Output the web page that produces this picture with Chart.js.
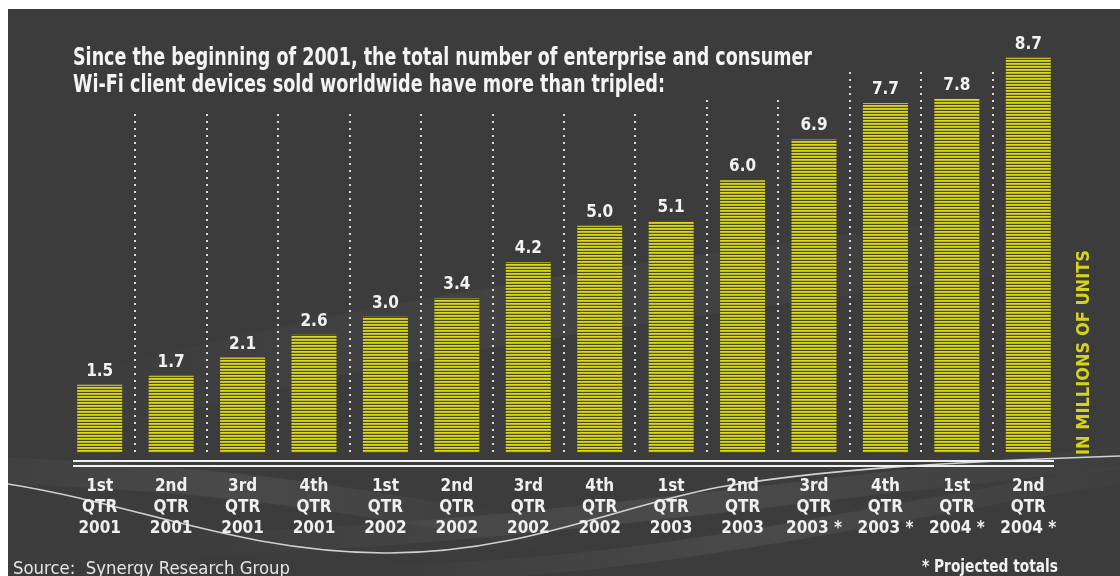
<!DOCTYPE html>
<html>
<head>
<meta charset="utf-8">
<script src="https://cdn.jsdelivr.net/npm/chart.js@4/dist/chart.umd.min.js"></script>
<style>
  html, body { margin: 0; padding: 0; background: #ffffff; }
  #wrap { width: 1120px; height: 576px; position: relative; }
</style>
</head>
<body>
<div id="wrap"><canvas id="chart" width="1120" height="576"></canvas></div>
<script>
const quarters = ["1st", "2nd", "3rd", "4th", "1st", "2nd", "3rd", "4th", "1st", "2nd", "3rd", "4th", "1st", "2nd"];
const years = ["2001", "2001", "2001", "2001", "2002", "2002", "2002", "2002", "2003", "2003", "2003", "2003", "2004", "2004"];
const projected = [false, false, false, false, false, false, false, false, false, false, true, true, true, true];
const unitsSold = [1.5, 1.7, 2.1, 2.6, 3.0, 3.4, 4.2, 5.0, 5.1, 6.0, 6.9, 7.7, 7.8, 8.7];

const titleLines = [
  "Since the beginning of 2001, the total number of enterprise and consumer",
  "Wi-Fi client devices sold worldwide have more than tripled:"
];
const axisTitle = "IN MILLIONS OF UNITS";
const sourceText = "Source:  Synergy Research Group";
const footnote = "* Projected totals";

const COND = "'Liberation Sans Narrow', 'DejaVu Sans Condensed', 'Arial Narrow', sans-serif";
const BG = "#3c3c3c";
const YELLOW = "#d6d21e";

const labels = quarters.map((q, i) => [q, "QTR", years[i] + (projected[i] ? " *" : "")]);

// striped yellow fill for the bars
function stripes() {
  const c = document.createElement("canvas");
  c.width = 1;
  c.height = 3;
  const g = c.getContext("2d");
  g.fillStyle = "#dad61c";
  g.fillRect(0, 0, 1, 1);
  g.fillStyle = "#bfbb28";
  g.fillRect(0, 1, 1, 1);
  g.fillStyle = "#4a492c";
  g.fillRect(0, 2, 1, 1);
  return g.createPattern(c, "repeat");
}

// draw text squeezed/stretched to a given width
function fitText(ctx, text, x, y, width) {
  const w = ctx.measureText(text).width;
  ctx.save();
  ctx.translate(x, y);
  ctx.scale(width / w, 1);
  ctx.fillText(text, 0, 0);
  ctx.restore();
}

function band(ctx, pts, width, alpha) {
  const g = ctx.createLinearGradient(pts[0], 0, pts[6], 0);
  g.addColorStop(0, "rgba(255,255,255,0)");
  g.addColorStop(0.5, "rgba(255,255,255," + alpha + ")");
  g.addColorStop(1, "rgba(255,255,255,0)");
  ctx.strokeStyle = g;
  ctx.lineWidth = width;
  ctx.beginPath();
  ctx.moveTo(pts[0], pts[1]);
  ctx.bezierCurveTo(pts[2], pts[3], pts[4], pts[5], pts[6], pts[7]);
  ctx.stroke();
}

const backdrop = {
  id: "backdrop",
  beforeDraw(chart) {
    const ctx = chart.ctx;
    ctx.save();
    ctx.fillStyle = "#ffffff";
    ctx.fillRect(0, 0, chart.width, chart.height);
    ctx.fillStyle = BG;
    ctx.fillRect(8, 9, chart.width - 8, chart.height - 9);

    // soft swooshes
    band(ctx, [8, 430, 250, 350, 550, 300, 1120, 230], 60, 0.04);
    band(ctx, [150, 545, 500, 540, 850, 480, 1200, 450], 22, 0.08);
    band(ctx, [350, 575, 700, 570, 900, 500, 1200, 465], 18, 0.07);
    band(ctx, [-100, 468, 150, 472, 330, 490, 560, 540], 26, 0.07);

    // thin white curve
    ctx.strokeStyle = "rgba(235,235,235,0.85)";
    ctx.lineWidth = 1.6;
    ctx.beginPath();
    ctx.moveTo(8, 484);
    ctx.bezierCurveTo(140, 505, 240, 552, 385, 553);
    ctx.bezierCurveTo(520, 554, 620, 505, 720, 487);
    ctx.bezierCurveTo(820, 470, 940, 462, 1120, 456);
    ctx.stroke();
    ctx.restore();
  },
  beforeDatasetsDraw(chart) {
    const ctx = chart.ctx;
    const meta = chart.getDatasetMeta(0);
    const bottom = chart.chartArea.bottom;
    ctx.save();
    ctx.strokeStyle = "#d8d8d8";
    ctx.lineWidth = 2;
    ctx.setLineDash([2, 5]);
    for (let i = 0; i < meta.data.length - 1; i++) {
      const x = Math.round((meta.data[i].x + meta.data[i + 1].x) / 2);
      let top = 72;
      if (x < 680) top = 114;
      else if (x < 815) top = 100;
      ctx.beginPath();
      ctx.moveTo(x, top);
      ctx.lineTo(x, bottom + 3);
      ctx.stroke();
    }
    ctx.restore();
  }
};

const annotations = {
  id: "annotations",
  afterDatasetsDraw(chart) {
    const ctx = chart.ctx;
    const area = chart.chartArea;
    const meta = chart.getDatasetMeta(0);
    ctx.save();

    // double base line
    ctx.strokeStyle = "#f0f0f0";
    ctx.lineWidth = 2;
    ctx.beginPath();
    ctx.moveTo(73, area.bottom + 8);
    ctx.lineTo(1054, area.bottom + 8);
    ctx.moveTo(73, area.bottom + 13);
    ctx.lineTo(1054, area.bottom + 13);
    ctx.stroke();

    // values above bars
    ctx.fillStyle = "#f2f2f2";
    ctx.font = "bold 17px " + COND;
    ctx.textAlign = "center";
    ctx.textBaseline = "alphabetic";
    meta.data.forEach((bar, i) => {
      ctx.fillText(unitsSold[i].toFixed(1), bar.x, bar.y - 9);
    });

    // heading
    ctx.textAlign = "left";
    ctx.font = "bold 24px " + COND;
    ctx.fillStyle = "#f4f4f4";
    fitText(ctx, titleLines[0], 73, 65, 739);
    fitText(ctx, titleLines[1], 73, 92, 592);

    // vertical units label
    ctx.save();
    ctx.translate(1089, 455);
    ctx.rotate(-Math.PI / 2);
    ctx.font = "bold 18px " + COND;
    ctx.fillStyle = YELLOW;
    fitText(ctx, axisTitle, 0, 0, 205);
    ctx.restore();

    // source and footnote
    ctx.font = "18px " + COND;
    ctx.fillStyle = "#e6e6e6";
    fitText(ctx, sourceText, 13, 574, 277);
    ctx.font = "bold 17px " + COND;
    ctx.fillStyle = "#f2f2f2";
    fitText(ctx, footnote, 922, 572, 136);
    ctx.restore();
  }
};

const ctx = document.getElementById("chart").getContext("2d");
new Chart(ctx, {
  type: "bar",
  data: {
    labels: labels,
    datasets: [{
      data: unitsSold,
      backgroundColor: stripes(),
      borderWidth: 0,
      barPercentage: 0.63,
      categoryPercentage: 1.0,
    }],
  },
  options: {
    responsive: false,
    animation: false,
    layout: {
      padding: { top: 44, left: 64, right: 56, bottom: 14 },
    },
    plugins: {
      legend: { display: false },
      tooltip: { enabled: false },
      title: { display: false },
    },
    scales: {
      x: {
        grid: { display: false, drawTicks: false },
        border: { display: false },
        ticks: {
          color: "#f0f0f0",
          font: { family: COND, size: 17, weight: "bold", lineHeight: "21px" },
          padding: 23,
          autoSkip: false,
          maxRotation: 0,
          minRotation: 0,
        },
      },
      y: {
        display: false,
        min: 0,
        max: 9,
      },
    },
  },
  plugins: [backdrop, annotations],
});
</script>
</body>
</html>
